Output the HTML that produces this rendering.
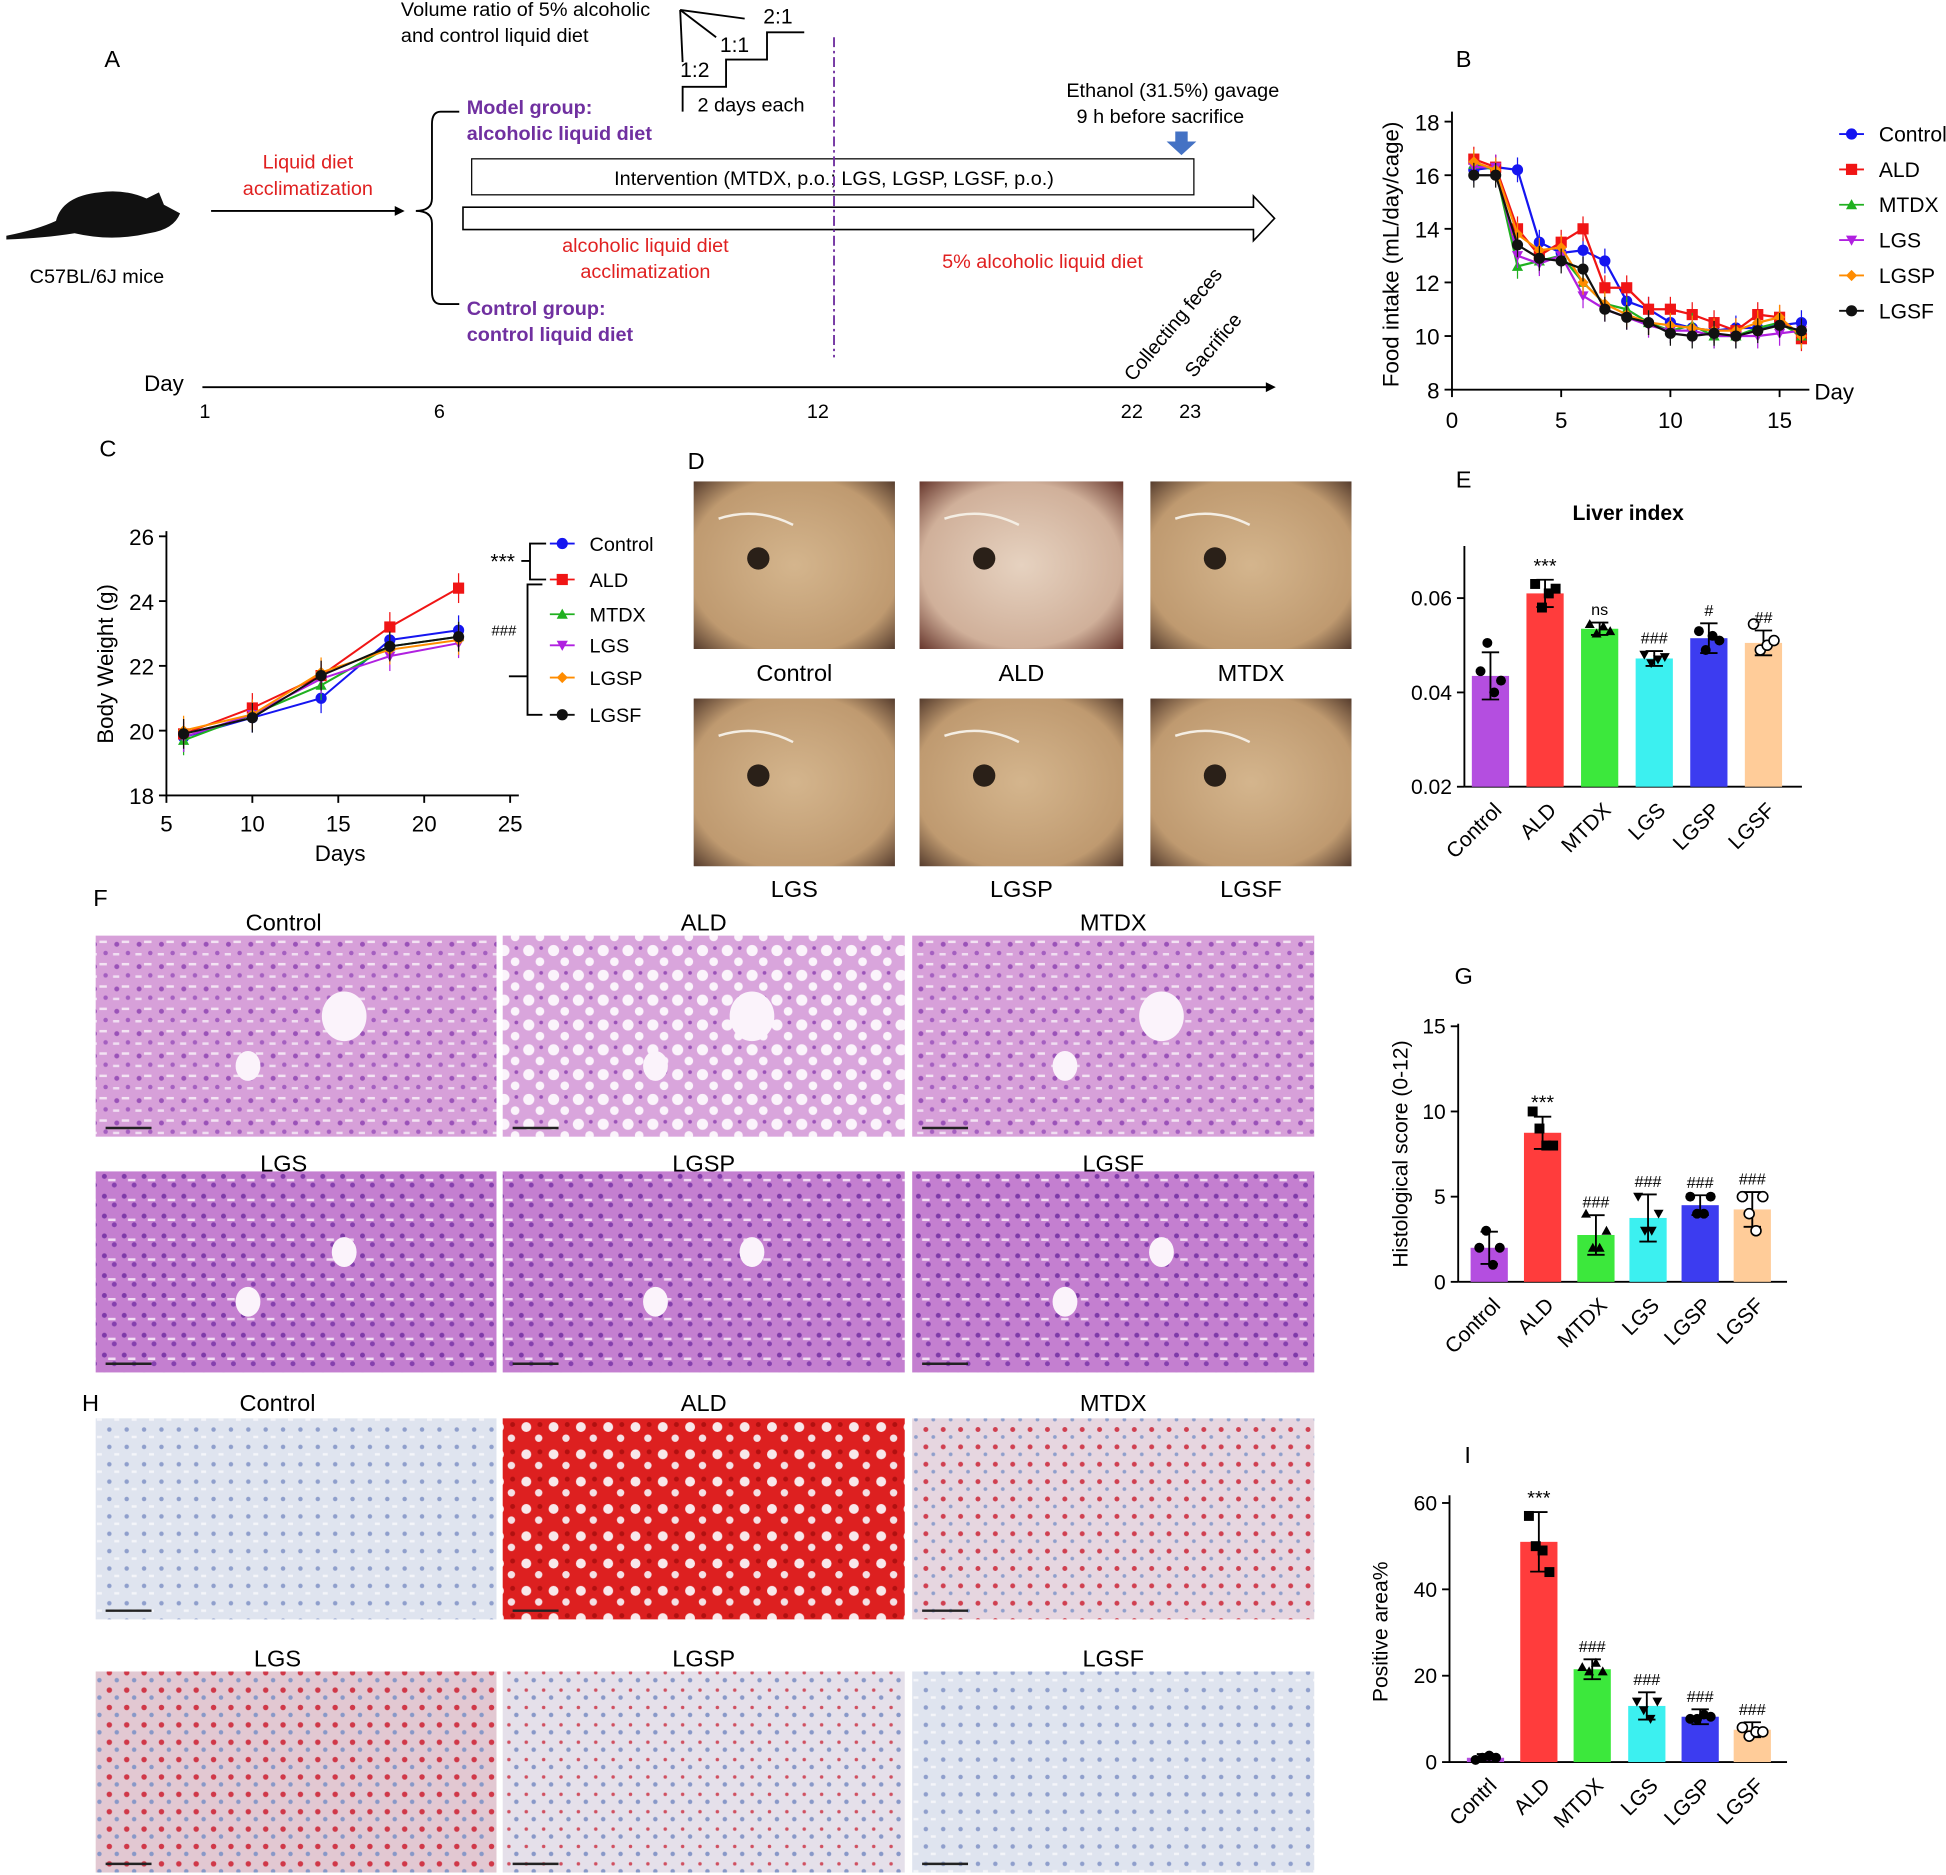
<!DOCTYPE html>
<html><head><meta charset="utf-8">
<style>
html,body{margin:0;padding:0;background:#fff;}
svg{display:block;font-family:"Liberation Sans",Arial,sans-serif;}
</style></head>
<body>
<svg id="s" width="1946" height="1875" viewBox="0 0 1568 1511" xmlns="http://www.w3.org/2000/svg">
<defs>
<pattern id="he" width="18" height="18" patternUnits="userSpaceOnUse">
<rect width="18" height="18" fill="#d7a0d9"/>
<circle cx="4" cy="5" r="2" fill="#9a52b8"/><circle cx="13" cy="12" r="1.8" fill="#a45fc0"/>
<rect x="8" y="2" width="6" height="2" fill="#f3e3f3"/><rect x="1" y="12" width="5" height="2" fill="#f0def2"/>
</pattern>
<pattern id="he2" width="16" height="16" patternUnits="userSpaceOnUse">
<rect width="16" height="16" fill="#c47fd0"/>
<circle cx="4" cy="4" r="2" fill="#7e3aa8"/><circle cx="12" cy="11" r="2" fill="#8540ae"/>
<rect x="7" y="6" width="6" height="2" fill="#f1dcf3"/>
</pattern>
<pattern id="heA" width="20" height="20" patternUnits="userSpaceOnUse">
<rect width="20" height="20" fill="#d9a5dc"/>
<circle cx="6" cy="6" r="4.5" fill="#fbf4fb"/><circle cx="15" cy="15" r="3.5" fill="#fbf4fb"/>
<circle cx="16" cy="4" r="1.5" fill="#9a52b8"/>
</pattern>
<pattern id="orC" width="14" height="14" patternUnits="userSpaceOnUse">
<rect width="14" height="14" fill="#dfe4ef"/><circle cx="4" cy="4" r="1.8" fill="#8f9fcc"/><rect x="8" y="9" width="4" height="2" fill="#f4f5f9"/>
</pattern>
<pattern id="orA" width="22" height="22" patternUnits="userSpaceOnUse">
<rect width="22" height="22" fill="#dd2020"/><circle cx="6" cy="6" r="4" fill="#f8e8ea"/><circle cx="16" cy="15" r="3" fill="#f4e0e4"/><circle cx="17" cy="4" r="2" fill="#b01010"/>
</pattern>
<pattern id="orM" width="14" height="14" patternUnits="userSpaceOnUse">
<rect width="14" height="14" fill="#e6d6e0"/><circle cx="4" cy="4" r="2" fill="#d04050"/><circle cx="10" cy="10" r="1.5" fill="#8f9fcc"/>
</pattern>
<pattern id="orL" width="14" height="14" patternUnits="userSpaceOnUse">
<rect width="14" height="14" fill="#e2c8d2"/><circle cx="4" cy="4" r="2.2" fill="#d03848"/><circle cx="10" cy="10" r="1.8" fill="#8898c8"/>
</pattern>
<pattern id="orP" width="14" height="14" patternUnits="userSpaceOnUse">
<rect width="14" height="14" fill="#e5e0ea"/><circle cx="4" cy="4" r="1.4" fill="#d05060"/><circle cx="10" cy="10" r="1.8" fill="#8898c8"/>
</pattern>
<radialGradient id="livg" cx="0.5" cy="0.5" r="0.7">
<stop offset="0" stop-color="#d4b58d"/><stop offset="0.75" stop-color="#bf9a70"/><stop offset="1" stop-color="#5a4030"/>
</radialGradient>
<radialGradient id="livA" cx="0.5" cy="0.5" r="0.7">
<stop offset="0" stop-color="#e6d2c0"/><stop offset="0.7" stop-color="#d0b09a"/><stop offset="1" stop-color="#6a3a30"/>
</radialGradient>
</defs>
<g id="g" font-size="16" fill="#000"></g>
</svg>
<script>
var g=document.getElementById('g'),NS='http://www.w3.org/2000/svg';
function el(t,a,txt){var e=document.createElementNS(NS,t);for(var k in a)e.setAttribute(k,a[k]);if(txt!=null)e.textContent=txt;g.appendChild(e);return e;}
function T(x,y,s,o){o=o||{};var a={x:x,y:y,'font-size':o.fs||16,fill:o.c||'#000','text-anchor':o.a||'start'};if(o.b)a['font-weight']='bold';if(o.r)a.transform='rotate('+o.r+' '+x+' '+y+')';return el('text',a,s);}
function L(x1,y1,x2,y2,c,w,d){var a={x1:x1,y1:y1,x2:x2,y2:y2,stroke:c||'#000','stroke-width':w||1.5};if(d)a['stroke-dasharray']=d;return el('line',a);}
function R(x,y,w,h,f,s){return el('rect',{x:x,y:y,width:w,height:h,fill:f,stroke:s||'none'});}
// Panel A
T(84,54,'A',{fs:19});
el('path',{d:'M5,190 Q30,185 45,178 Q50,158 80,155 Q100,152 118,160 L128,155 L132,165 L145,172 Q140,185 120,188 Q90,195 60,188 Q35,192 5,193 Z',fill:'#111'});
T(78,228,'C57BL/6J mice',{a:'middle'});
L(170,170,320,170);el('path',{d:'M318,166 L326,170 L318,174Z'});
T(248,136,'Liquid diet',{c:'#e02020',a:'middle'});T(248,157,'acclimatization',{c:'#e02020',a:'middle'});
el('path',{d:'M370,90 L355,90 Q348,90 348,100 L348,160 Q348,170 335,170 Q348,170 348,180 L348,235 Q348,245 355,245 L370,245',fill:'none',stroke:'#000','stroke-width':1.5});
T(376,92,'Model group:',{c:'#7030a0',b:1});T(376,113,'alcoholic liquid diet',{c:'#7030a0',b:1});
T(376,254,'Control group:',{c:'#7030a0',b:1});T(376,275,'control liquid diet',{c:'#7030a0',b:1});
T(323,13,'Volume ratio of 5% alcoholic',{});T(323,34,'and control liquid diet',{});
el('path',{d:'M550,90 L550,70 L585,70 L585,48 L618,48 L618,26 L648,26',fill:'none',stroke:'#000','stroke-width':1.5});
T(548,62,'1:2',{fs:17});T(580,42,'1:1',{fs:17});T(615,19,'2:1',{fs:17});
L(548,8,600,15);L(548,8,577,30);L(548,8,550,50);
T(562,90,'2 days each',{});
R(380,128,582,29,'#fff','#000');
T(672,149,'Intervention (MTDX, p.o.; LGS, LGSP, LGSF, p.o.)',{a:'middle'});
el('path',{d:'M373,167 L1010,167 L1010,158 L1027,176 L1010,194 L1010,185 L373,185Z',fill:'#fff',stroke:'#000','stroke-width':1.3});
T(520,203,'alcoholic liquid diet',{c:'#e02020',a:'middle'});T(520,224,'acclimatization',{c:'#e02020',a:'middle'});
T(840,216,'5% alcoholic liquid diet',{c:'#e02020',a:'middle'});
L(672,30,672,288,'#7030a0',1.5,'8 3 2 3');
T(945,78,'Ethanol (31.5%) gavage',{a:'middle'});T(935,99,'9 h before sacrifice',{a:'middle'});
el('path',{d:'M947,106 L957,106 L957,114 L964,114 L952,125 L940,114 L947,114Z',fill:'#4472c4'});
L(163,312,1022,312);el('path',{d:'M1020,308 L1028,312 L1020,316Z'});
T(132,315,'Day',{fs:18,a:'middle'});
[[1,165],[6,354],[12,659],[22,912],[23,959]].forEach(function(d){T(d[1],337,d[0],{a:'middle'});});
T(913,308,'Collecting feces',{r:-50});T(962,305,'Sacrifice',{r:-50});
// Panel B
T(1173,54,'B',{fs:19});
var bx=function(d){return 1170+d*17.6},by=function(v){return 314-(v-8)*21.6};
L(1170,314,1458,314);L(1170,314,1170,90);
[8,10,12,14,16,18].forEach(function(v){L(1164,by(v),1170,by(v));T(1160,by(v)+7,v,{fs:18,a:'end'});});
[0,5,10,15].forEach(function(d){L(bx(d),314,bx(d),320);T(bx(d),345,d,{fs:18,a:'middle'});});
T(1478,322,'Day',{fs:18,a:'middle'});
T(1127,205,'Food intake (mL/day/cage)',{fs:18,a:'middle',r:-90});
var colors=['#1515f0','#f01515','#20b020','#b020e0','#ff8c00','#111'];
var names=['Control','ALD','MTDX','LGS','LGSP','LGSF'];
var Bd=[[16.2,16.3,16.2,13.5,13.1,13.2,12.8,11.3,11.0,10.5,10.3,10.2,10.3,10.3,10.4,10.5],
[16.6,16.3,14.0,13.0,13.5,14.0,11.8,11.8,11.0,11.0,10.8,10.5,10.2,10.8,10.7,9.9],
[16.4,16.2,12.6,12.8,13.0,12.0,11.2,11.0,10.5,10.2,10.4,10.0,10.0,10.3,10.5,10.0],
[16.3,16.3,13.0,12.7,13.0,11.5,11.0,10.7,10.4,10.2,10.2,10.0,10.0,10.0,10.1,10.2],
[16.5,16.2,13.8,13.2,13.3,12.0,11.2,10.8,10.5,10.4,10.3,10.2,10.2,10.5,10.7,10.0],
[16.0,16.0,13.4,12.9,12.8,12.5,11.0,10.7,10.5,10.1,10.0,10.1,10.0,10.2,10.4,10.2]];
function mark(i,x,y,r){var c=colors[i];if(i==0||i==5)el('circle',{cx:x,cy:y,r:r,fill:c});else if(i==1)R(x-r,y-r,2*r,2*r,c);else if(i==2)el('path',{d:'M'+x+','+(y-r)+' L'+(x+r)+','+(y+r*0.8)+' L'+(x-r)+','+(y+r*0.8)+'Z',fill:c});else if(i==3)el('path',{d:'M'+x+','+(y+r)+' L'+(x+r)+','+(y-r*0.8)+' L'+(x-r)+','+(y-r*0.8)+'Z',fill:c});else el('path',{d:'M'+x+','+(y-r)+' L'+(x+r)+','+y+' L'+x+','+(y+r)+' L'+(x-r)+','+y+'Z',fill:c});}
Bd.forEach(function(s,i){var p=s.map(function(v,k){return bx(k+1)+','+by(v)}).join(' ');
s.forEach(function(v,k){L(bx(k+1),by(v)-10,bx(k+1),by(v)+10,colors[i],1);});
el('polyline',{points:p,fill:'none',stroke:colors[i],'stroke-width':1.8});s.forEach(function(v,k){mark(i,bx(k+1),by(v),4.5);});});
names.forEach(function(n,i){var y=108+i*28.5;L(1482,y,1502,y,colors[i],1.5);mark(i,1492,y,4.5);T(1514,y+6,n,{fs:17});});
// Panel C
T(80,368,'C',{fs:19});
var cx=function(d){return 134+(d-5)*13.85},cy=function(v){return 641-(v-18)*26.1};
L(134,641,418,641);L(134,641,134,428);
[18,20,22,24,26].forEach(function(v){L(128,cy(v),134,cy(v));T(124,cy(v)+7,v,{fs:18,a:'end'});});
[5,10,15,20,25].forEach(function(d){L(cx(d),641,cx(d),647);T(cx(d),670,d,{fs:18,a:'middle'});});
T(274,694,'Days',{fs:18,a:'middle'});T(91,535,'Body Weight (g)',{fs:18,a:'middle',r:-90});
var Cd=[[19.8,20.4,21.0,22.8,23.1],[19.9,20.7,21.7,23.2,24.4],[19.7,20.5,21.4,22.6,22.9],[19.8,20.5,21.6,22.3,22.7],[20.0,20.5,21.8,22.5,22.8],[19.9,20.4,21.7,22.6,22.9]];
var days=[6,10,14,18,22];
Cd.forEach(function(s,i){s.forEach(function(v,k){L(cx(days[k]),cy(v)-12,cx(days[k]),cy(v)+12,colors[i],1);});
el('polyline',{points:s.map(function(v,k){return cx(days[k])+','+cy(v)}).join(' '),fill:'none',stroke:colors[i],'stroke-width':1.6});
s.forEach(function(v,k){mark(i,cx(days[k]),cy(v),4.5);});});
var cl=[438,467,495,520,546,576];
names.forEach(function(n,i){L(443,cl[i],463,cl[i],colors[i],1.5);mark(i,453,cl[i],4.5);T(475,cl[i]+6,n,{fs:16});});
el('path',{d:'M440,438 L427,438 L427,467 L440,467 M427,452 L420,452',fill:'none',stroke:'#000','stroke-width':1.5});
el('path',{d:'M437,471 L425,471 L425,576 L437,576 M425,545 L410,545',fill:'none',stroke:'#000','stroke-width':1.5});
T(405,458,'***',{fs:17,a:'middle'});T(406,512,'###',{fs:12,a:'middle'});
// Panel D
T(554,378,'D',{fs:19});
var dx=[559,741,927],dl=[['Control','ALD','MTDX'],['LGS','LGSP','LGSF']];
[[388,549],[563,723]].forEach(function(r,ri){dx.forEach(function(x,ci){var w=ci==1?164:162;
R(x,r[0],w,135,'#5a4a40');R(x,r[0],w,135,(ri==0&&ci==1)?'url(#livA)':'url(#livg)');
el('circle',{cx:x+52,cy:r[0]+62,r:9,fill:'#2a2018'});
el('path',{d:'M'+(x+20)+','+(r[0]+30)+' q30,-10 60,5',fill:'none',stroke:'#f4eee4','stroke-width':2});
T(x+w/2,r[1],dl[ri][ci],{fs:19,a:'middle'});});});
// Bar charts
function bars(o){L(o.x0,o.y0,o.x1,o.y0);L(o.x0,o.y0,o.x0,o.ytop);
o.ticks.forEach(function(v){var y=o.y(v);L(o.x0-6,y,o.x0,y);T(o.x0-10,y+6,o.tl?o.tl(v):v,{fs:17,a:'end'});});
var bc=['#b44ee0','#ff3c3c','#3ce83c','#3cf0f0','#3c3cf0','#ffcc99'];
o.v.forEach(function(v,i){var x=o.cx[i],y=o.y(v);R(x-15,y,30,o.y0-y,bc[i]);
L(x,y-o.e[i],x,y+o.e[i],'#000',1.5);L(x-7,y-o.e[i],x+7,y-o.e[i]);L(x-7,y+o.e[i],x+7,y+o.e[i]);
o.pts[i].forEach(function(p,k){var px=x-8+k*5.5,py=o.y(p);if(i==5)el('circle',{cx:px,cy:py,r:4,fill:'#fff',stroke:'#000','stroke-width':1.3});else mark(i==0?5:i==1?1:i==2?2:i==3?3:5,px,py,4);});
el('text',{x:x,y:o.y(v)-o.e[i]-6,'font-size':i==1?16:13,'text-anchor':'middle'}).textContent=o.sig[i];
T(x+10,o.y0+20,names[i].replace('Control',o.c0||'Control'),{fs:17,a:'end',r:-45});});}
var oldmark=mark;mark=function(i,x,y,r){var c=colors[i];colors[i]='#000';oldmark(i,x,y,r);colors[i]=c;};
T(1173,393,'E',{fs:19});T(1312,419,'Liver index',{fs:17,b:1,a:'middle'});
var ey=function(v){return 634-(v-0.02)*3800};
bars({x0:1180,x1:1452,y0:634,ytop:440,y:ey,ticks:[0.02,0.04,0.06],tl:function(v){return v.toFixed(2)},cx:[1201,1245,1289,1333,1377,1421],
v:[0.0435,0.061,0.0535,0.0472,0.0515,0.0505],e:[19,11,5,6,12,10],pts:[[0.0445,0.0505,0.040,0.0425],[0.063,0.058,0.061,0.062],[0.0545,0.0525,0.054,0.053],[0.048,0.0462,0.047,0.0475],[0.053,0.049,0.052,0.051],[0.0545,0.049,0.050,0.051]],sig:['','***','ns','###','#','##']});
T(1172,793,'G',{fs:19});
var gy=function(v){return 1033-v*13.73};
bars({x0:1175,x1:1440,y0:1033,ytop:825,y:gy,ticks:[0,5,10,15],cx:[1200,1243,1286,1328,1370,1412],
v:[2,8.75,2.75,3.75,4.5,4.25],e:[13,13,16,19,8,14],pts:[[2,3,1,2],[10,9,8,8],[4,2,2,3],[5,3,3,4],[5,4,4,5],[5,4,3,5]],sig:['','***','###','###','###','###']});
T(1134,930,'Histological score (0-12)',{fs:17,a:'middle',r:-90});
T(1180,1179,'I',{fs:19});
var iy=function(v){return 1420-v*3.48};
bars({x0:1168,x1:1440,y0:1420,ytop:1205,y:iy,ticks:[0,20,40,60],cx:[1197,1240,1283,1327,1370,1412],c0:'Contrl',
v:[1,51,21.5,13,10.5,7.5],e:[3,24,8,11,6,6],pts:[[0.5,1,1.5,1],[57,50,49,44],[22,21,23,21],[14,12,10,14],[10,10,11,10.5],[8,6,7,7]],sig:['','***','###','###','###','###']});
T(1118,1315,'Positive area%',{fs:17,a:'middle',r:-90});
// Panel F
T(75,730,'F',{fs:19});
var hx=[[77,323],[405,324],[735,324]];
var Ff=[['url(#he)','url(#heA)','url(#he)'],['url(#he2)','url(#he2)','url(#he2)']];
var Fl=[['Control','ALD','MTDX'],['LGS','LGSP','LGSF']];
[[754,743],[944,937]].forEach(function(r,ri){hx.forEach(function(h,ci){R(h[0],r[0],h[1],162,Ff[ri][ci]);
el('ellipse',{cx:h[0]+h[1]*0.62,cy:r[0]+65,rx:ri?10:18,ry:ri?12:20,fill:'#fbf3fb'});el('ellipse',{cx:h[0]+h[1]*0.38,cy:r[0]+105,rx:10,ry:12,fill:'#fbf3fb'});
L(h[0]+8,r[0]+155,h[0]+45,r[0]+155,'#222',2);
T(h[0]+h[1]/2-(ci==0?10:0),r[1]+7,Fl[ri][ci],{fs:19,a:'middle'});});});
// Panel H
T(66,1137,'H',{fs:19});
var Hf=[['url(#orC)','url(#orA)','url(#orM)'],['url(#orL)','url(#orP)','url(#orC)']];
[[1143,1130],[1347,1336]].forEach(function(r,ri){hx.forEach(function(h,ci){R(h[0],r[0],h[1],162,Hf[ri][ci]);
L(h[0]+8,r[0]+155,h[0]+45,r[0]+155,'#222',2);
T(h[0]+h[1]/2-(ci==0?15:0),r[1]+7,Fl[ri][ci],{fs:19,a:'middle'});});});
</script>
</body></html>
